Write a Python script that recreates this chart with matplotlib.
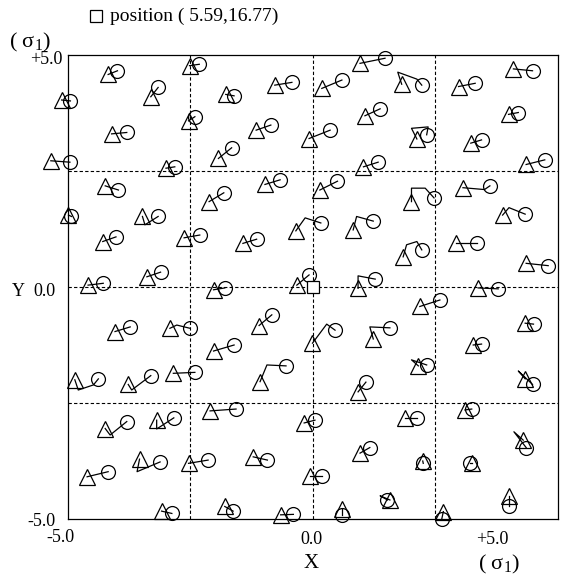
import matplotlib
matplotlib.use("Agg")
import matplotlib.pyplot as plt

plt.rcParams['font.family'] = ['Liberation Serif', 'DejaVu Serif']
plt.rcParams['mathtext.fontset'] = 'stix'

# start positions (triangles)
start_x = [-4.18, -3.31, -2.52, -1.78, -0.78, -5.13, -4.11, -2.54, -1.16, -0.08,
           -1.93, -5.35, -3.00, -4.24, -2.12, -0.98, -4.99, -3.48, -4.29, -2.63,
           -1.43, -0.35, -3.39, -4.59, -2.03, -0.33,
           0.96, 0.18, 1.81, 2.97, 4.09, 1.06, 2.12, 3.99, 3.22, 1.03,
           4.35, 0.14, 2.01, 3.06, 0.82, 3.87, 1.84, 2.92, 4.35, 0.92, 3.37,
           -4.04, -2.92, -1.10, -2.03, -4.86, -3.77, -2.85, -1.08, -4.24, -3.19,
           -2.10, -4.61, -3.54, -2.54, -1.22, -3.09, -1.80, -0.66, -0.18,
           2.18, -0.01, 1.23, 4.33, 3.27, 2.15, 4.33, 0.92, 3.10, 1.88,
           0.96, 2.24, 4.29, 3.24, -0.06, 1.57, 0.59, 2.66, 4.01]
start_y = [4.58, 4.10, 4.77, 4.15, 4.35, 4.03, 3.30, 3.58, 3.38, 3.20,
           2.77, 2.72, 2.56, 2.18, 1.84, 2.21, 1.55, 1.52, 0.98, 1.06,
           0.94, 1.21, 0.22, 0.04, -0.06, 0.04,
           4.82, 4.28, 4.37, 4.32, 4.70, 3.69, 3.19, 3.72, 3.10, 2.59,
           2.64, 2.09, 1.84, 2.14, 1.23, 1.55, 0.65, 0.94, 0.51, -0.03, -0.02,
           -0.96, -0.89, -0.83, -1.38, -2.00, -2.10, -1.86, -2.04, -3.05, -2.87,
           -2.67, -4.09, -3.71, -3.80, -3.66, -4.83, -4.73, -4.91, -2.93,
           -0.42, -1.21, -1.12, -0.78, -1.25, -1.70, -1.98, -2.26, -2.65, -2.83,
           -3.58, -3.75, -3.30, -3.80, -4.07, -4.59, -4.78, -4.84, -4.50]
# end positions (circles)
end_x = [-3.99, -3.16, -2.32, -1.61, -0.43, -4.95, -3.80, -2.41, -0.86, 0.35,
         -1.66, -4.96, -2.82, -3.97, -1.82, -0.67, -4.93, -3.16, -4.02, -2.31,
         -1.15, 0.16, -3.11, -4.28, -1.80, -0.08,
         1.47, 0.59, 2.22, 3.31, 4.48, 1.37, 2.32, 4.19, 3.44, 1.33,
         4.73, 0.50, 2.47, 3.61, 1.23, 4.33, 2.22, 3.34, 4.80, 1.27, 3.78,
         -3.73, -2.51, -0.84, -1.61, -4.38, -3.31, -2.41, -0.55, -3.80, -2.84,
         -1.57, -4.18, -3.12, -2.14, -0.93, -2.88, -1.63, -0.40, 0.04,
         2.59, 0.45, 1.57, 4.50, 3.44, 2.32, 4.48, 1.08, 3.24, 2.12,
         1.16, 2.25, 4.35, 3.20, 0.18, 1.52, 0.59, 2.63, 4.01]
end_y = [4.66, 4.30, 4.80, 4.12, 4.41, 4.01, 3.33, 3.67, 3.49, 3.38,
         3.00, 2.69, 2.59, 2.09, 2.03, 2.31, 1.52, 1.52, 1.08, 1.12,
         1.03, 1.38, 0.32, 0.08, -0.02, 0.26,
         4.93, 4.46, 4.35, 4.39, 4.66, 3.84, 3.28, 3.76, 3.17, 2.69,
         2.74, 2.28, 1.92, 2.18, 1.42, 1.57, 0.80, 0.94, 0.46, 0.17, -0.04,
         -0.86, -0.89, -0.60, -1.25, -1.98, -1.91, -1.84, -1.70, -2.90, -2.82,
         -2.63, -3.98, -3.77, -3.73, -3.73, -4.88, -4.83, -4.90, -2.87,
         -0.28, -0.93, -0.88, -0.80, -1.23, -1.68, -2.10, -2.05, -2.63, -2.83,
         -3.46, -3.80, -3.46, -3.80, -4.07, -4.59, -4.91, -4.99, -4.73]
# intermediate points of the paths (index -> list of points)
bends = {
    17: [(-3.43, 1.34)],
    21: [(-0.16, 1.49)],
    28: [(1.73, 4.63), (2.12, 4.48)],
    32: [(2.01, 3.42), (2.35, 3.45)],
    38: [(2.01, 2.13), (2.29, 2.13)],
    39: [(3.50, 2.10)],
    40: [(0.89, 1.52)],
    41: [(4.00, 1.71)],
    42: [(1.91, 0.91), (2.12, 0.98)],
    45: [(0.92, 0.24)],
    48: [(-2.78, -0.82)],
    51: [(-4.79, -2.22), (-4.48, -2.11)],
    52: [(-3.70, -2.22)],
    54: [(-0.94, -1.68)],
    55: [(-4.14, -3.19)],
    56: [(-3.19, -3.06)],
    59: [(-3.59, -3.98)],
    67: [(0.28, -0.80)],
    68: [(1.16, -0.86)],
    71: [(2.01, -1.57)],
    72: [(4.19, -1.81)],
    78: [(4.10, -3.12)],
    81: [(1.37, -4.50)],
}
square_x = [0.0]
square_y = [0.0]

fig = plt.figure(figsize=(5.87, 5.77), dpi=100)
ax = fig.add_axes([0.1158, 0.1005, 0.8348, 0.8042])
ax.set_xlim(-5, 5)
ax.set_ylim(-5, 5)

for g in [-2.5, 0, 2.5]:
    ax.axvline(g, color='black', ls=(0, (3, 2)), lw=0.8, zorder=1)
    ax.axhline(g, color='black', ls=(0, (3, 2)), lw=0.8, zorder=1)

for i in range(len(start_x)):
    px = [start_x[i]] + [p[0] for p in bends.get(i, [])] + [end_x[i]]
    py = [start_y[i]] + [p[1] for p in bends.get(i, [])] + [end_y[i]]
    ax.plot(px, py, color='black', lw=0.9, clip_on=False, zorder=2)

ax.plot(start_x, start_y, '^', ms=11, mfc='none', mec='black', mew=0.9,
        clip_on=False, zorder=3)
ax.plot(end_x, end_y, 'o', ms=10, mfc='none', mec='black', mew=0.9,
        clip_on=False, zorder=3)
ax.plot(square_x, square_y, 's', ms=8, mfc='white', mec='black', mew=0.9,
        zorder=4)

ax.set_xticks([])
ax.set_yticks([])
for s in ax.spines.values():
    s.set_linewidth(0.9)

W, H = 587, 577
def ft(x, y, s, **kw):
    fig.text(x / W, 1 - y / H, s, va='center', **kw)

fig.lines.append(plt.Line2D([96 / W], [1 - 16 / H], marker='s', ms=8,
                            mfc='none', mec='black', mew=0.9,
                            transform=fig.transFigure))
ft(110, 16, 'position ( 5.59,16.77)', fontsize=14, ha='left')
ft(9, 42, r'( $\mathregular{\sigma_{1}}$)', fontsize=16, ha='left')
ft(62, 60, '+5.0', fontsize=13, ha='right')
ft(12, 291, 'Y', fontsize=13, ha='left')
ft(56, 291, '0.0', fontsize=13, ha='right')
ft(56, 522, '-5.0', fontsize=13, ha='right')
ft(60, 538, '-5.0', fontsize=13, ha='center')
ft(311, 540, '0.0', fontsize=13, ha='center')
ft(492, 540, '+5.0', fontsize=13, ha='center')
ft(311, 564, 'X', fontsize=15, ha='center')
ft(478, 564, r'( $\mathregular{\sigma_{1}}$)', fontsize=16, ha='left')

fig.savefig('out.png', dpi=100)
